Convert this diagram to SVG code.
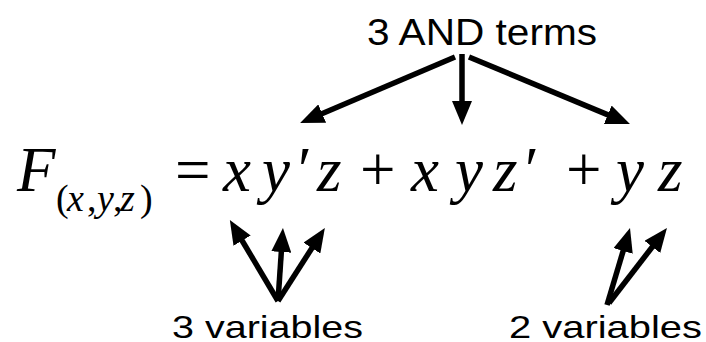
<svg xmlns="http://www.w3.org/2000/svg" width="706" height="342" viewBox="0 0 706 342">
  <style>
    .label { font-family: "Liberation Sans", Arial, sans-serif; fill: #000; }
    .math { font-family: "Liberation Serif", "Times New Roman", serif; font-style: italic; font-size: 63px; fill: #000; }
    .op { font-family: "Liberation Serif", "Times New Roman", serif; font-style: normal; font-size: 63px; fill: #000; }
    .sub { font-family: "Liberation Serif", "Times New Roman", serif; font-style: italic; font-size: 38px; fill: #000; }
    .subp { font-family: "Liberation Serif", "Times New Roman", serif; font-style: normal; font-size: 38px; fill: #000; }
    .arrow { fill: none; stroke: #000; stroke-width: 5.5; stroke-linecap: butt; marker-end: url(#head); }
  </style>
  <defs>
    <marker id="head" viewBox="0 0 24 20" refX="10" refY="10" markerWidth="24" markerHeight="20" markerUnits="userSpaceOnUse" orient="auto">
      <path d="M0,0 L24,10 L0,20 Z" fill="#000"/>
    </marker>
  </defs>

  <rect width="706" height="342" fill="#fff"/>

  <!-- Labels -->
  <g id="and-terms">
    <text class="label" x="367" y="45" font-size="37" textLength="230" lengthAdjust="spacingAndGlyphs">3 AND terms</text>
  </g>
  <g id="three-variables">
    <text class="label" x="172" y="338" font-size="32" textLength="191" lengthAdjust="spacingAndGlyphs">3 variables</text>
  </g>
  <g id="two-variables">
    <text class="label" x="509" y="338" font-size="32" textLength="193" lengthAdjust="spacingAndGlyphs">2 variables</text>
  </g>

  <!-- Boolean expression -->
  <g id="expression">
    <text class="math" x="17" y="191">F</text>
    <text class="subp" x="56" y="211">(</text>
    <text class="sub" x="67" y="211">x</text>
    <text class="subp" x="87" y="211">,</text>
    <text class="sub" x="97" y="211">y</text>
    <text class="subp" x="113" y="211">,</text>
    <text class="sub" x="120" y="211">z</text>
    <text class="subp" x="140" y="211">)</text>

    <text class="op" x="175" y="191">=</text>
    <text class="math" x="223" y="191">x</text>
    <text class="math" x="262" y="191">y</text>
    <text class="op" x="298" y="191">′</text>
    <text class="math" x="317" y="191">z</text>
    <text class="op" x="360" y="191">+</text>
    <text class="math" x="411" y="191">x</text>
    <text class="math" x="455" y="191">y</text>
    <text class="math" x="493" y="191">z</text>
    <text class="op" x="525" y="191">′</text>
    <text class="op" x="566" y="191">+</text>
    <text class="math" x="616" y="191">y</text>
    <text class="math" x="658" y="191">z</text>
  </g>

  <!-- Connectors -->
  <g id="connectors">
    <path class="arrow" d="M455,57 L313,117.5"/>
    <path class="arrow" d="M462,54 L462,111"/>
    <path class="arrow" d="M469,57 L617,118.6"/>

    <path class="arrow" d="M278,301 L237,232"/>
    <path class="arrow" d="M278,301 L282,242"/>
    <path class="arrow" d="M278,301 L317.3,239.7"/>

    <path class="arrow" d="M607,305 L626,241.4"/>
    <path class="arrow" d="M609,303 L658.4,239"/>
  </g>
</svg>
